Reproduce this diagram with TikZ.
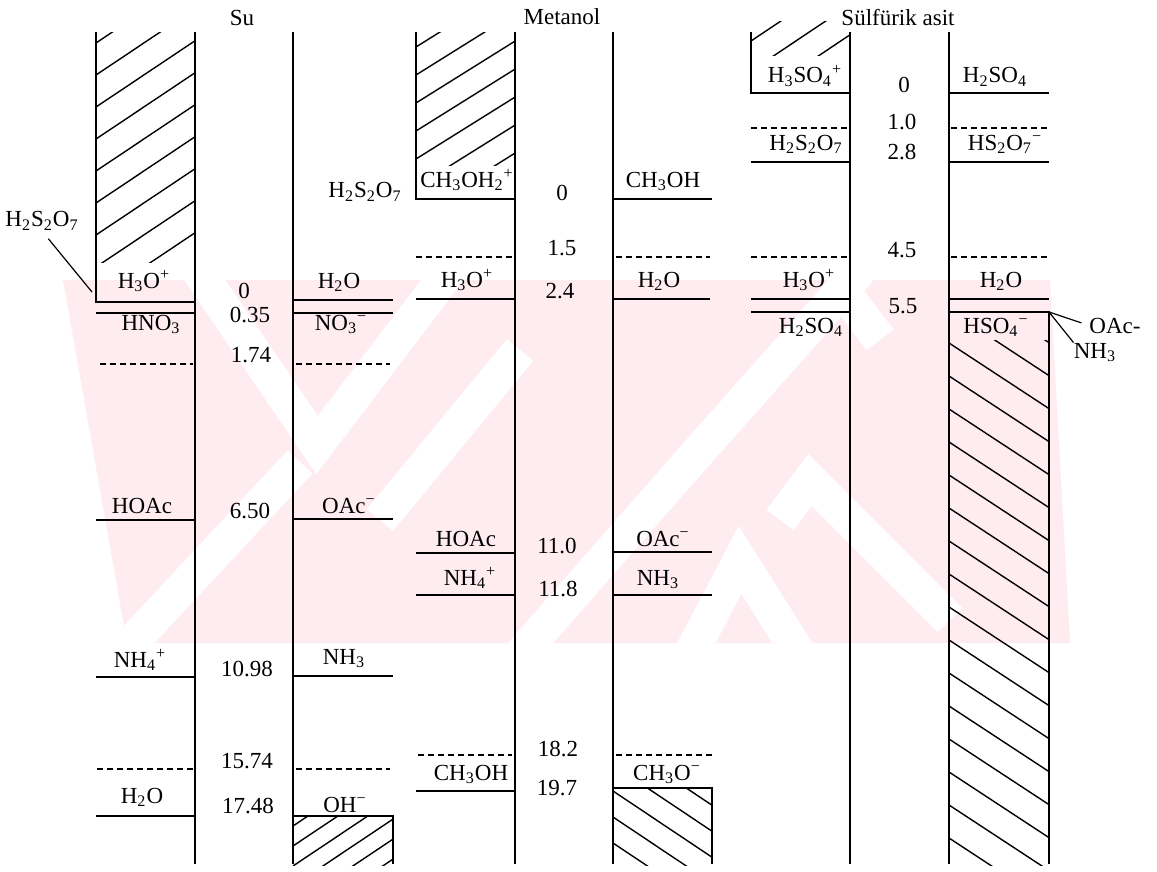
\documentclass[tikz,border=0pt]{standalone}
\usepackage{fontspec}
\setmainfont{Liberation Serif}
\usetikzlibrary{positioning,calc}
\definecolor{wmPink}{RGB}{254,236,240}
\tikzset{
  colln/.style={line width=1.1pt, line cap=rect},
  lvlln/.style={line width=1.1pt},
  dashln/.style={line width=0.9pt, dash pattern=on 3pt off 2pt},
  hatchln/.style={line width=0.7pt},
  leadln/.style={line width=0.6pt},
  wmgap/.style={white, line width=17pt},
  spec/.style={inner sep=0pt, anchor=base, font=\fontsize{11.5}{12}\selectfont},
  pk/.style={inner sep=0pt, anchor=base, font=\fontsize{11.5}{12}\selectfont},
  ttl/.style={inner sep=0pt, anchor=base, font=\fontsize{11.5}{12}\selectfont},
}
\newcommand{\sbs}[1]{\textsubscript{#1}}
\newcommand{\sps}[1]{\textsuperscript{#1}}
% hatching clipped to a box: x1,y1,x2,y2, first start y, step, rise
\newcommand{\hatchbox}[7]{%
  \begin{scope}
    \clip (#1,#2) rectangle (#3,#4);
    \foreach \k in {0,...,24}
      \draw[hatchln] (#1,{#5+#6*\k}) -- ++(160,{#7});
  \end{scope}}

\begin{document}
\begin{tikzpicture}[x=0.5pt, y=-0.5pt]
  \useasboundingbox (0,0) rectangle (1157,872);
  \fill[white] (0,0) rectangle (1157,872);
  % watermark (drawn first)
  \begin{scope}
    \clip (0,280) rectangle (1157,643);
    \fill[wmPink] (63,280) -- (1050,280) -- (1070,643) -- (127,643) -- cycle;
    \draw[wmgap] (198,270) -- (317,445) -- (450,270);
    \draw[wmgap] (120,655) -- (300,462);
    \draw[wmgap] (380,520) -- (520,350);
    \draw[wmgap] (520,655) -- (700,450) -- (860,270);
    \draw[wmgap] (690,655) -- (740,560) -- (800,655);
    \draw[wmgap] (780,520) -- (810,480) -- (950,620);
    \draw[wmgap] (850,300) -- (880,340);
  \end{scope}

  % hatched regions
  \hatchbox{96}{33}{195}{262}{11}{32}{-107}
  \hatchbox{416}{33}{515}{166}{19}{28}{-100}
  \hatchbox{751}{22}{850}{56}{-49}{30}{-107}
  \hatchbox{293}{816}{393}{865}{826}{20}{-107}
  \hatchbox{613}{788}{712}{865}{687}{26}{107}
  \hatchbox{949}{340}{1049}{865}{211}{33}{105}

  % solvent columns and boxes
  \draw[colln] (195,33) -- (195,863) (293,33) -- (293,863);
  \draw[colln] (515,33) -- (515,863) (613,33) -- (613,863);
  \draw[colln] (850,33) -- (850,863) (949,33) -- (949,863);
  \draw[colln] (96,33) -- (96,302) -- (195,302);
  \draw[colln] (416,33) -- (416,199) -- (515,199);
  \draw[colln] (751,33) -- (751,93) -- (850,93);
  \draw[colln] (293,816) -- (393,816) -- (393,863);
  \draw[colln] (613,788) -- (712,788) -- (712,863);
  \draw[colln] (949,312) -- (1049,312) -- (1049,863);

  % levels: Su
  \draw[lvlln] (96,313) -- (195,313) (96,520) -- (195,520)
    (96,677) -- (195,677) (96,816) -- (195,816);
  \draw[lvlln] (293,300) -- (393,300) (293,313) -- (393,313)
    (293,519) -- (393,519) (293,676) -- (393,676);
  \draw[dashln] (100,364) -- (193,364) (296,364) -- (390,364)
    (97,769) -- (193,769) (296,769) -- (390,769);
  % levels: Metanol
  \draw[lvlln] (416,299) -- (515,299) (416,553) -- (515,553)
    (416,595) -- (515,595) (416,791) -- (515,791);
  \draw[lvlln] (613,199) -- (712,199) (613,299) -- (710,299)
    (613,552) -- (712,552) (613,595) -- (712,595);
  \draw[dashln] (416,257) -- (512,257) (616,257) -- (710,257)
    (418,755) -- (512,755) (616,755) -- (712,755);
  % levels: Sulfurik asit
  \draw[lvlln] (751,162) -- (850,162) (751,299) -- (850,299)
    (751,312) -- (850,312);
  \draw[lvlln] (949,93) -- (1049,93) (949,162) -- (1049,162)
    (949,299) -- (1049,299);
  \draw[dashln] (751,128) -- (848,128) (951,128) -- (1047,128)
    (751,257) -- (848,257) (951,257) -- (1047,257);

  % titles
  \node[ttl] (suTtl) at (242,26) {Su};
  \node[ttl] (meTtl) at (562,25) {Metanol};
  \node[ttl] (saTtl) at (898,26) {Sülfürik asit};

  % Su
  \node[spec] (suPyro) at (42,227) {H\sbs{2}S\sbs{2}O\sbs{7}};
  \node[spec] (suH3O) at (144,288) {H\sbs{3}O\sps{+}};
  \node[spec] (suHNO3) at (151,330) {HNO\sbs{3}};
  \node[spec] (suH2O) at (339,288) {H\sbs{2}O};
  \node[spec] (suNO3) at (341,330) {NO\sbs{3}\sps{−}};
  \node[spec] (suHOAc) at (142,513) {HOAc};
  \node[spec] (suOAc) at (349,513) {OAc\sps{−}};
  \node[spec] (suNH4) at (140,667) {NH\sbs{4}\sps{+}};
  \node[spec] (suNH3) at (344,664) {NH\sbs{3}};
  \node[spec] (suH2Ob) at (142,803) {H\sbs{2}O};
  \node[spec] (suOH) at (345,812) {OH\sps{−}};
  \node[pk] (suK0) at (244,298) {0};
  \node[pk] (suK1) at (250,322) {0.35};
  \node[pk] (suK2) at (251,362) {1.74};
  \node[pk] (suK3) at (250,518) {6.50};
  \node[pk] (suK4) at (247,676) {10.98};
  \node[pk] (suK5) at (247,768) {15.74};
  \node[pk] (suK6) at (248,813) {17.48};
  \coordinate (suCorner) at (92,292);
  \draw[leadln, shorten <=5pt] (suPyro.south) -- (suCorner);

  % Metanol
  \node[spec] (mePyro) at (365,198) {H\sbs{2}S\sbs{2}O\sbs{7}};
  \node[spec] (meH2Me) at (467,187) {CH\sbs{3}OH\sbs{2}\sps{+}};
  \node[spec] (meMeOH) at (663,187) {CH\sbs{3}OH};
  \node[spec] (meH3O) at (467,287) {H\sbs{3}O\sps{+}};
  \node[spec] (meH2O) at (659,287) {H\sbs{2}O};
  \node[spec] (meHOAc) at (466,546) {HOAc};
  \node[spec] (meOAc) at (663,546) {OAc\sps{−}};
  \node[spec] (meNH4) at (470,585) {NH\sbs{4}\sps{+}};
  \node[spec] (meNH3) at (658,585) {NH\sbs{3}};
  \node[spec] (meMeOHb) at (471,780) {CH\sbs{3}OH};
  \node[spec] (meMeO) at (667,780) {CH\sbs{3}O\sps{−}};
  \node[pk] (meK0) at (562,200) {0};
  \node[pk] (meK1) at (562,256) {1.5};
  \node[pk] (meK2) at (560,298) {2.4};
  \node[pk] (meK3) at (557,553) {11.0};
  \node[pk] (meK4) at (558,596) {11.8};
  \node[pk] (meK5) at (558,756) {18.2};
  \node[pk] (meK6) at (557,795) {19.7};

  % Sulfurik asit
  \node[spec] (saH3SO4) at (805,83) {H\sbs{3}SO\sbs{4}\sps{+}};
  \node[spec] (saH2SO4) at (995,83) {H\sbs{2}SO\sbs{4}};
  \node[spec] (saPyro) at (806,150) {H\sbs{2}S\sbs{2}O\sbs{7}};
  \node[spec] (saHS2O7) at (1005,150) {HS\sbs{2}O\sbs{7}\sps{−}};
  \node[spec] (saH3O) at (809,287) {H\sbs{3}O\sps{+}};
  \node[spec] (saH2O) at (1001,287) {H\sbs{2}O};
  \node[spec] (saH2SO4b) at (811,333) {H\sbs{2}SO\sbs{4}};
  \node[spec] (saHSO4) at (996,333) {HSO\sbs{4}\sps{−}};
  \node[spec] (saOAc) at (1115,333) {OAc-};
  \node[spec] (saNH3) at (1095,358) {NH\sbs{3}};
  \node[pk] (saK0) at (904,93) {0};
  \node[pk] (saK1) at (902,130) {1.0};
  \node[pk] (saK2) at (902,160) {2.8};
  \node[pk] (saK3) at (902,257) {4.5};
  \node[pk] (saK4) at (903,313) {5.5};
  \coordinate (saCorner) at (1049,312);
  \draw[leadln, shorten >=4pt] (saCorner) -- (saOAc.west);
  \draw[leadln] (saCorner) -- (saNH3.north west);
\end{tikzpicture}
\end{document}
